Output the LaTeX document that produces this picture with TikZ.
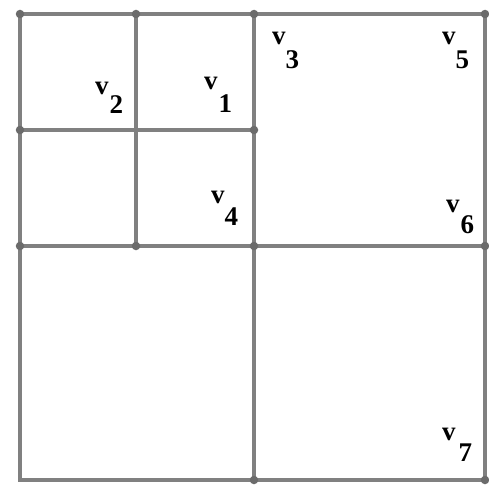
\documentclass[tikz,border=0pt]{standalone}
\usepackage{fontspec}
\setmainfont{Liberation Serif}
\begin{document}
\begin{tikzpicture}[x=1pt,y=-1pt,
  edge/.style={draw=black!50, line width=3.2pt},
  pt/.style={circle, fill=black!58, inner sep=0pt, minimum size=8.5pt},
  lab/.style={anchor=base west, inner sep=0pt, font=\fontsize{27}{27}\selectfont\bfseries}]
\useasboundingbox (0,0) rectangle (489,484);
% grid points
\coordinate (a1) at (20,14);  \coordinate (a2) at (136,14); \coordinate (a3) at (254,14); \coordinate (a4) at (485,14);
\coordinate (b1) at (20,130); \coordinate (b2) at (136,130); \coordinate (b3) at (254,130);
\coordinate (c1) at (20,246); \coordinate (c2) at (136,246); \coordinate (c3) at (254,246); \coordinate (c4) at (485,246);
\coordinate (d1) at (20,480); \coordinate (d3) at (254,480); \coordinate (d4) at (485,480);
% lines
\draw[edge] (a1) -- (a4) -- (d4) -- (d1) -- cycle;
\draw[edge] (a2) -- (c2);
\draw[edge] (a3) -- (d3);
\draw[edge] (b1) -- (b3);
\draw[edge] (c1) -- (c4);
% dots
\foreach \p in {a1,a2,a3,a4,b1,b3,c1,c2,c3,c4,d3,d4}
  \node[pt] at (\p) {};
% labels
\node[lab] (v2) at (95,95) {v\kern1pt\raisebox{-19pt}{2}};
\node[lab] (v1) at (204,90) {v\kern1pt\raisebox{-22pt}{1}};
\node[lab] (v3) at (272,45) {v\raisebox{-24pt}{3}};
\node[lab] (v5) at (442,45) {v\raisebox{-24pt}{5}};
\node[lab] (v4) at (211,203) {v\raisebox{-22pt}{4}};
\node[lab] (v6) at (446,212) {v\kern1pt\raisebox{-21pt}{6}};
\node[lab] (v7) at (442,440) {v\kern3pt\raisebox{-21pt}{7}};
\end{tikzpicture}
\end{document}
